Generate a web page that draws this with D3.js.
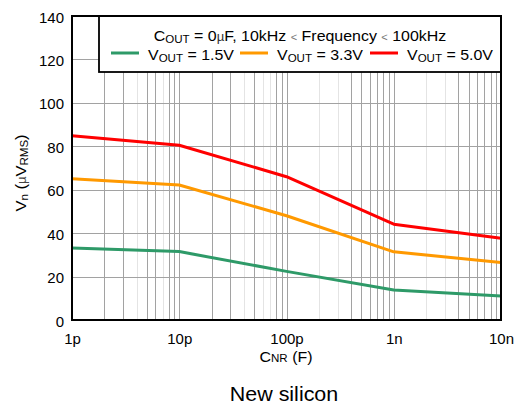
<!DOCTYPE html>
<html><head><meta charset="utf-8">
<script src="https://cdn.jsdelivr.net/npm/d3@7"></script>
<style>body{margin:0;background:#fff}svg{display:block;font-family:"Liberation Sans",Arial,sans-serif}</style>
</head><body><svg id="c" width="518" height="409"></svg>
<script>
// ---- data ----
const capLabels = ["1p","10p","100p","1n","10n"];
const capValues = [1e-12,1e-11,1e-10,1e-9,1e-8];
const vout15 = [33.2,31.5,22.4,13.8,11.1];
const vout33 = [65.1,62.2,48.0,31.4,26.5];
const vout50 = [84.9,80.5,66.0,44.1,37.6];
const yTicks = [0,20,40,60,80,100,120,140];
const seriesNames = ["1.5V","3.3V","5.0V"];
const seriesColors = ["#2e9a68","#ff9900","#ff0000"];
const seriesValues = [vout15, vout33, vout50];
// minor grid multipliers drawn lighter, per decade (visual style)
const lightMinor = [[4,7],[4,6,7],[2,3],[2,3]];

const svg = d3.select("#c");
const L=72,R=501,T=16,B=320;
const SX=1.1; // horizontal glyph stretch
const x = d3.scaleLog().domain([1e-12,1e-8]).range([L,R]);
const y = d3.scaleLinear().domain([0,140]).range([B,T]);

function stext(px,py,size,anchor,rot){
  return svg.append("text")
    .attr("transform",`translate(${px},${py})${rot?` rotate(${rot})`:""} scale(${SX},1)`)
    .attr("text-anchor",anchor).attr("font-size",size).attr("fill","#000");
}

// grid
const g = svg.append("g");
capValues.slice(0,4).forEach((d,i)=>{
  for(let m=2;m<=9;m++){
    const xv = Math.round(x(d*m))+0.5;
    g.append("line").attr("x1",xv).attr("x2",xv).attr("y1",T).attr("y2",B)
      .attr("stroke", lightMinor[i].includes(m)?"#e4e4e4":"#a2a2a2").attr("stroke-width",1);
  }
});
capValues.forEach(d=>{
  const xv=Math.round(x(d))+0.5;
  g.append("line").attr("x1",xv).attr("x2",xv).attr("y1",T).attr("y2",B).attr("stroke","#a2a2a2");
});
yTicks.forEach(t=>{
  const yv=Math.round(y(t))+0.5;
  g.append("line").attr("x1",L).attr("x2",R).attr("y1",yv).attr("y2",yv).attr("stroke","#a2a2a2");
});

// lines
const line = d3.line().x((d,i)=>x(capValues[i])).y(d=>y(d));
seriesValues.forEach((vals,k)=>{
  svg.append("path").datum(vals).attr("d",line).attr("fill","none")
    .attr("stroke",seriesColors[k]).attr("stroke-width",3).attr("stroke-linejoin","round");
});

// legend box
svg.append("rect").attr("x",99).attr("y",T).attr("width",R-99).attr("height",56)
  .attr("fill","#fff").attr("stroke","#000").attr("stroke-width",1.8);

// frame
svg.append("rect").attr("x",L).attr("y",T).attr("width",R-L).attr("height",B-T)
  .attr("fill","none").attr("stroke","#000").attr("stroke-width",2);

// axes labels via d3 axes (tick text only)
const yAxis = svg.append("g").attr("transform",`translate(${L},0)`)
  .call(d3.axisLeft(y).tickValues(yTicks).tickSize(0).tickPadding(8));
yAxis.select(".domain").remove();
yAxis.selectAll("text").attr("font-size",15).attr("fill","#000").attr("font-family","Liberation Sans, Arial, sans-serif").attr("dy","0.4em");

const xAxis = svg.append("g").attr("transform",`translate(0,${B})`)
  .call(d3.axisBottom(x).tickValues(capValues).tickFormat((d,i)=>capLabels[i]).tickSize(0).tickPadding(13));
xAxis.select(".domain").remove();
xAxis.selectAll("text").attr("font-size",15).attr("fill","#000").attr("font-family","Liberation Sans, Arial, sans-serif");

// x title
const xt = stext(286,362,14.5,"middle");
xt.append("tspan").text("C");
xt.append("tspan").attr("font-size",10.5).text("NR");
xt.append("tspan").text(" (F)");

// y title
const yt = stext(26,173,15,"middle",-90);
yt.append("tspan").text("V");
yt.append("tspan").attr("font-size",10.5).attr("dy",2).text("n");
yt.append("tspan").attr("dy",-2).text(" (");
yt.append("tspan").attr("font-size",12).attr("fill","#444").text("\u00b5");
yt.append("tspan").text("V");
yt.append("tspan").attr("font-size",10.5).attr("dy",2).text("RMS");
yt.append("tspan").attr("dy",-2).text(")");

// bottom caption
stext(284,401,19.5,"middle").text("New silicon");

// legend title
const lt = stext(300,41,14.5,"middle");
lt.append("tspan").text("C");
lt.append("tspan").attr("font-size",10.5).attr("dy",1.5).text("OUT");
lt.append("tspan").attr("dy",-1.5).text(" = 0");
lt.append("tspan").attr("font-size",12).attr("fill","#333").text("\u00b5");
lt.append("tspan").text("F, 10kHz ");
lt.append("tspan").attr("font-size",10).attr("fill","#777").text("<");
lt.append("tspan").text(" Frequency ");
lt.append("tspan").attr("font-size",10).attr("fill","#777").text("<");
lt.append("tspan").text(" 100kHz");

// legend items
const lx=[111,240,370];
seriesNames.forEach((n,k)=>{
  svg.append("line").attr("x1",lx[k]).attr("x2",lx[k]+28).attr("y1",53).attr("y2",53)
    .attr("stroke",seriesColors[k]).attr("stroke-width",3);
  const t = stext(lx[k]+37,60,14.5,"start");
  t.append("tspan").text("V");
  t.append("tspan").attr("font-size",10.5).attr("dy",1.5).text("OUT");
  t.append("tspan").attr("dy",-1.5).text(" = "+n);
});
</script></body></html>
